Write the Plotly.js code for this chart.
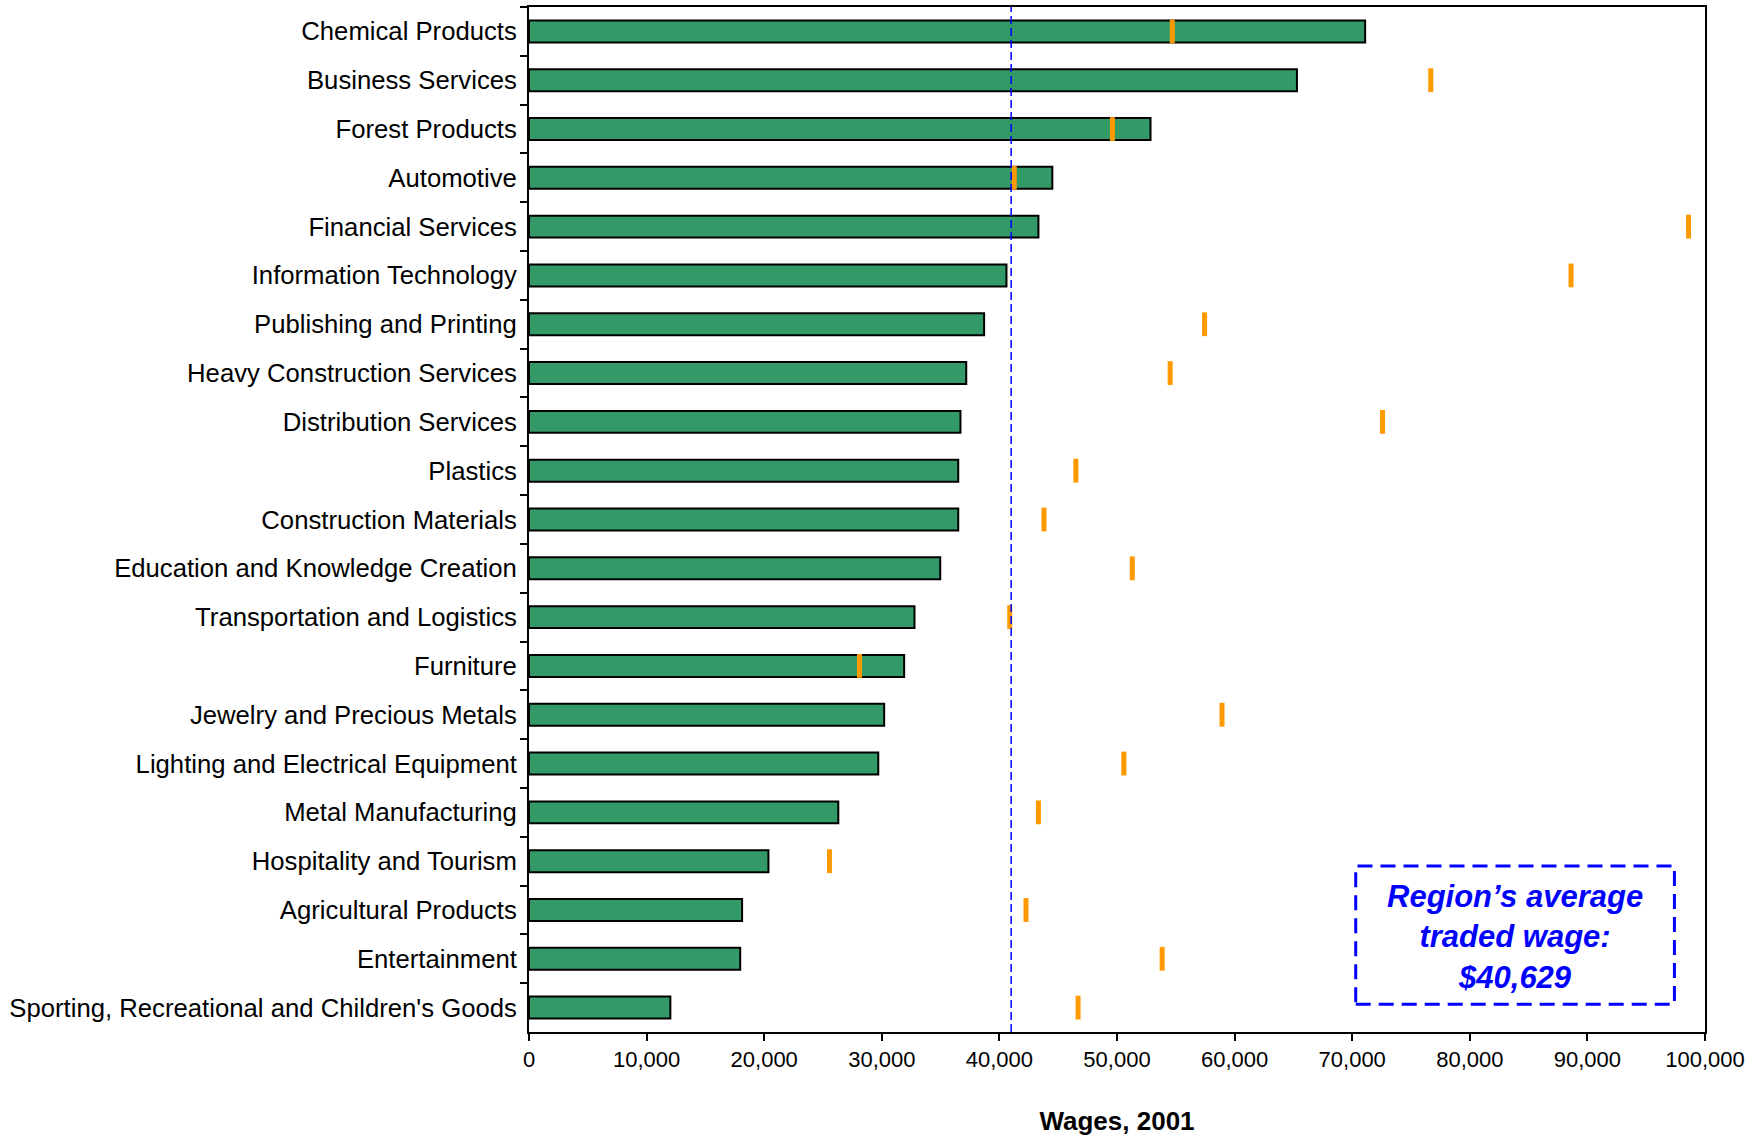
<!DOCTYPE html>
<html>
<head>
<meta charset="utf-8">
<script src="https://cdn.plot.ly/plotly-3.0.1.min.js"></script>
<style>
  html, body { margin: 0; padding: 0; background: #ffffff; }
  #chart { width: 1762px; height: 1136px; }
</style>
</head>
<body>
<div id="chart"></div>
<script>
// ---- Data ----
const categories = [
  "Chemical Products",
  "Business Services",
  "Forest Products",
  "Automotive",
  "Financial Services",
  "Information Technology",
  "Publishing and Printing",
  "Heavy Construction Services",
  "Distribution Services",
  "Plastics",
  "Construction Materials",
  "Education and Knowledge Creation",
  "Transportation and Logistics",
  "Furniture",
  "Jewelry and Precious Metals",
  "Lighting and Electrical Equipment",
  "Metal Manufacturing",
  "Hospitality and Tourism",
  "Agricultural Products",
  "Entertainment",
  "Sporting, Recreational and Children's Goods"
];

// Regional cluster wages (green bars)
const regionWages = [
  71100, 65300, 52850, 44500, 43320, 40600, 38700, 37180, 36690, 36500, 36500,
  34970, 32780, 31900, 30200, 29700, 26300, 20360, 18120, 17960, 12020
];

// Benchmark cluster wages (orange marks)
const benchmarkWages = [
  54700, 76680, 49610, 41260, 98600, 88610, 57450, 54520, 72580, 46500, 43790,
  51300, 40880, 28100, 58930, 50580, 43320, 25550, 42260, 53840, 46690
];

// Region's average traded wage line (as drawn in the picture)
const averageLine = 41000;
const averageLabel = "Region\u2019s average<br>traded wage:<br>$40,629";

const xTickValues = [0, 10000, 20000, 30000, 40000, 50000, 60000, 70000, 80000, 90000, 100000];
const xTickLabels = ["0", "10,000", "20,000", "30,000", "40,000", "50,000", "60,000", "70,000", "80,000", "90,000", "100,000"];

const FONT = "Liberation Sans, Arial, Helvetica, sans-serif";

const traces = [
  {
    type: "bar",
    orientation: "h",
    y: categories,
    x: regionWages,
    width: 0.45,
    marker: { color: "#339966", line: { color: "#000000", width: 2 } },
    hoverinfo: "x+y",
    showlegend: false
  },
  {
    type: "scatter",
    mode: "markers",
    y: categories,
    x: benchmarkWages,
    marker: {
      symbol: "line-ns",
      size: 17,
      color: "#FF9900",
      line: { color: "#FF9900", width: 5 }
    },
    hoverinfo: "x+y",
    showlegend: false
  }
];

const layout = {
  width: 1762,
  height: 1136,
  paper_bgcolor: "#ffffff",
  plot_bgcolor: "#ffffff",
  margin: { l: 529, r: 57, t: 7, b: 104, pad: 0 },
  font: { family: FONT, color: "#000000" },
  bargap: 0.55,
  xaxis: {
    range: [0, 100000],
    tickmode: "array",
    tickvals: xTickValues,
    ticktext: xTickLabels,
    ticks: "outside",
    ticklen: 7,
    tickwidth: 2,
    tickcolor: "#000000",
    tickfont: { family: FONT, size: 22, color: "#000000" },
    showline: true,
    linecolor: "#000000",
    linewidth: 2,
    mirror: true,
    showgrid: false,
    zeroline: false,
    automargin: false,
    title: {
      text: "<b>Wages, 2001</b>",
      font: { family: FONT, size: 26, color: "#000000" },
      standoff: 40
    }
  },
  yaxis: {
    type: "category",
    categoryorder: "array",
    categoryarray: categories,
    range: [categories.length - 0.5, -0.5],
    autorange: false,
    ticks: "outside",
    tickson: "boundaries",
    ticklen: 7,
    tickwidth: 2,
    tickcolor: "#000000",
    ticklabelstandoff: 5,
    tickfont: { family: FONT, size: 25.7, color: "#000000" },
    showline: true,
    linecolor: "#000000",
    linewidth: 2,
    mirror: true,
    showgrid: false,
    zeroline: false,
    automargin: false
  },
  shapes: [
    {
      type: "line",
      xref: "x",
      yref: "paper",
      x0: averageLine,
      x1: averageLine,
      y0: 0,
      y1: 1,
      line: { color: "#0000FF", width: 1.5, dash: "8px,4px" }
    },
    {
      type: "rect",
      xref: "paper",
      yref: "paper",
      x0: 0.703,
      x1: 0.974,
      y0: 0.027,
      y1: 0.162,
      line: { color: "#0000FF", width: 3, dash: "15px,8px" },
      fillcolor: "rgba(0,0,0,0)"
    }
  ],
  annotations: [
    {
      xref: "paper",
      yref: "paper",
      x: 0.8385,
      y: 0.093,
      xanchor: "center",
      yanchor: "middle",
      showarrow: false,
      align: "center",
      text: "<b><i>" + averageLabel + "</i></b>",
      font: { family: FONT, size: 31, color: "#0000FF" }
    }
  ]
};

Plotly.newPlot("chart", traces, layout, { displayModeBar: false, responsive: false });
</script>
</body>
</html>
